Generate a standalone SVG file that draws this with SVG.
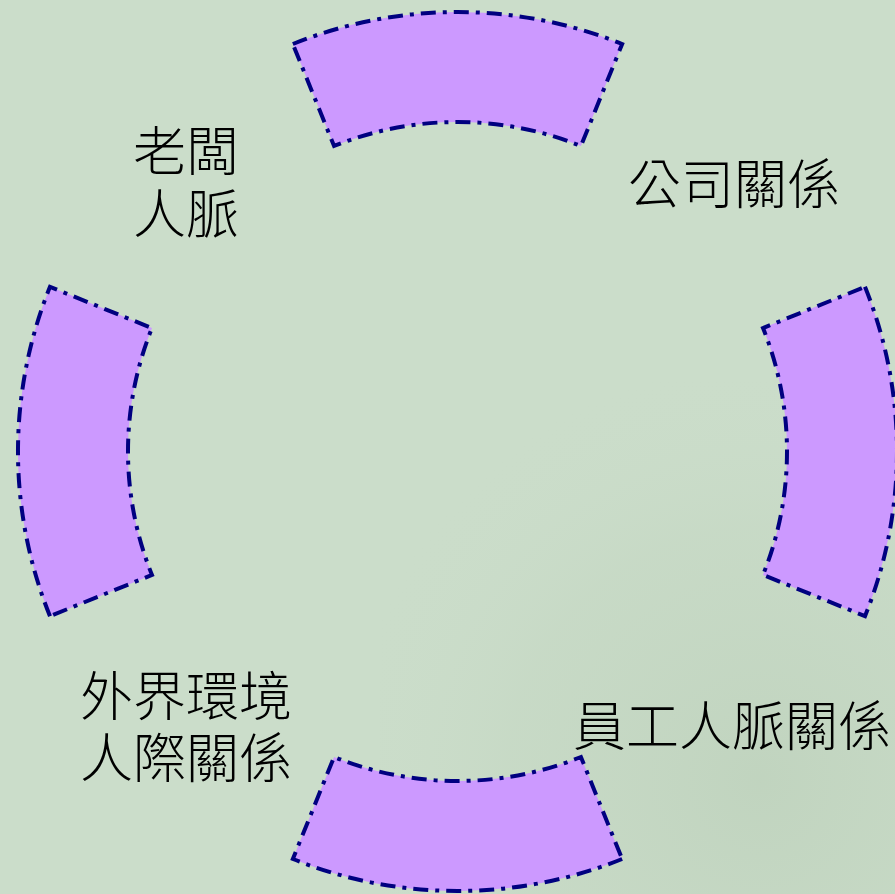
<svg xmlns="http://www.w3.org/2000/svg" width="895" height="894" viewBox="0 0 895 894">
  <defs>
    <radialGradient id="wm" cx="760" cy="780" r="420" gradientUnits="userSpaceOnUse">
      <stop offset="0" stop-color="#bcd0ba" stop-opacity="0.7"/>
      <stop offset="0.6" stop-color="#c2d5c0" stop-opacity="0.4"/>
      <stop offset="1" stop-color="#cbddca" stop-opacity="0"/>
    </radialGradient>
  </defs>
  <style>
    .seg { fill: #cc99ff; stroke: #000080; stroke-width: 4; stroke-dasharray: 15 7 4 7; stroke-linejoin: miter; }
    .lbl { font-family: "Noto Sans CJK TC", "Noto Sans CJK SC", sans-serif; font-size: 53px; font-weight: 300; fill: #000000; text-anchor: middle; }
  </style>
  <rect x="0" y="0" width="895" height="894" fill="#cbddca"/>
  <rect x="380" y="380" width="515" height="514" fill="url(#wm)"/>

  <g id="seg-top">
    <path class="seg" d="M 292.86 44.01 A 439.5 439.5 0 0 1 622.14 44.01 L 580.93 146.0 A 329.5 329.5 0 0 0 334.07 146.0 Z"/>
  </g>
  <g id="seg-right">
    <path class="seg" d="M 864.99 286.86 A 439.5 439.5 0 0 1 864.99 616.14 L 763.01 574.93 A 329.5 329.5 0 0 0 763.01 328.07 Z"/>
  </g>
  <g id="seg-bottom">
    <path class="seg" d="M 622.14 858.99 A 439.5 439.5 0 0 1 292.86 858.99 L 334.07 757.0 A 329.5 329.5 0 0 0 580.93 757.0 Z"/>
  </g>
  <g id="seg-left">
    <path class="seg" d="M 49.99 616.14 A 439.5 439.5 0 0 1 49.99 286.86 L 151.99 328.07 A 329.5 329.5 0 0 0 151.99 574.93 Z"/>
  </g>

  <g id="connectors"></g>

  <g id="label-boss">
    <text class="lbl"><tspan x="186" y="171">老闆</tspan><tspan x="186" y="234">人脈</tspan></text>
  </g>
  <g id="label-company">
    <text class="lbl" x="734" y="204">公司關係</text>
  </g>
  <g id="label-external">
    <text class="lbl"><tspan x="186" y="716">外界環境</tspan><tspan x="186" y="778">人際關係</tspan></text>
  </g>
  <g id="label-staff">
    <text class="lbl" x="732" y="746">員工人脈關係</text>
  </g>
</svg>
